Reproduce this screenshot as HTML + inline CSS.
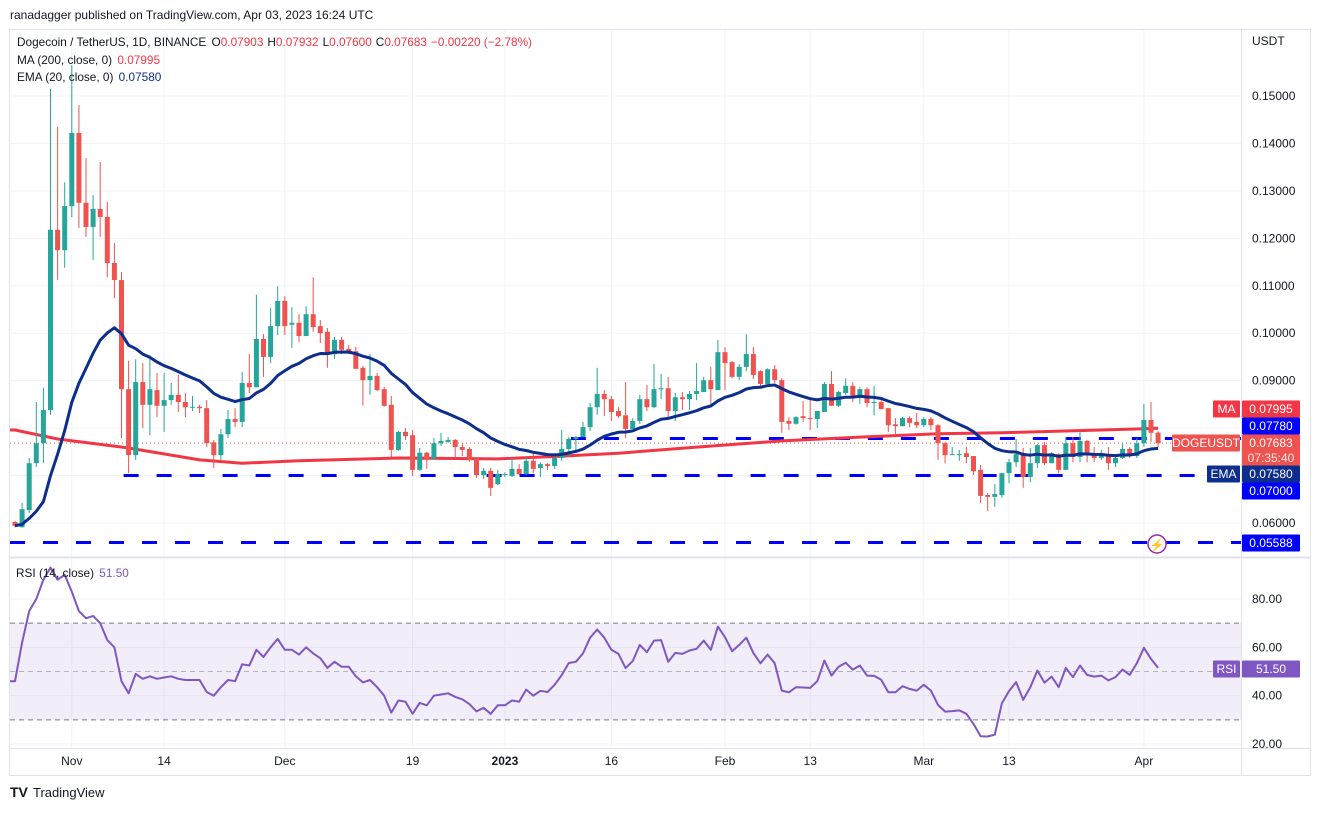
<!DOCTYPE html>
<html><head><meta charset="utf-8"><title>DOGEUSDT chart</title>
<style>
html,body{margin:0;padding:0;background:#fff;}
body{width:1320px;height:810px;overflow:hidden;font-family:"Liberation Sans",sans-serif;}
svg text{font-family:"Liberation Sans",sans-serif;}
</style></head>
<body>
<svg id="chart" width="1320" height="810" xmlns="http://www.w3.org/2000/svg">
  <text x="10" y="19" font-size="12" fill="#131722">ranadagger published on TradingView.com, Apr 03, 2023 16:24 UTC</text>
  <rect x="9.5" y="29.5" width="1301" height="746" fill="none" stroke="#e0e3eb"/>
  <g id="grid"></g>
  <rect x="10" y="623" width="1231" height="97" fill="#7e57c2" fill-opacity="0.1"/>
  <g id="rsiguides"></g>
  <g id="hlines"></g>
  <g id="ma-layer"></g>
  <g id="candles"></g>
  <g id="ema-layer"></g>
  <g id="rsi-layer"></g>
  <line x1="1241.5" y1="30" x2="1241.5" y2="775" stroke="#e0e3eb"/>
  <line x1="10" y1="557.5" x2="1310" y2="557.5" stroke="#e0e3eb" stroke-width="2"/>
  <line x1="10" y1="748.5" x2="1310" y2="748.5" stroke="#e0e3eb"/>
  <g id="axes"></g>
  <g id="tags"></g>
  <g font-size="11.8" fill="#131722">
    <text x="17" y="46">Dogecoin / TetherUS, 1D, BINANCE <tspan dx="2">O</tspan><tspan fill="#f23645">0.07903</tspan><tspan dx="4">H</tspan><tspan fill="#f23645">0.07932</tspan><tspan dx="4">L</tspan><tspan fill="#f23645">0.07600</tspan><tspan dx="4">C</tspan><tspan fill="#f23645">0.07683</tspan><tspan dx="4" fill="#f23645">−0.00220 (−2.78%)</tspan></text>
    <text x="17" y="64">MA (200, close, 0) <tspan dx="2" fill="#f23645">0.07995</tspan></text>
    <text x="17" y="81">EMA (20, close, 0) <tspan dx="2" fill="#0d2e8c">0.07580</tspan></text>
    <text x="16" y="577">RSI (14, close) <tspan dx="2" fill="#7e57c2">51.50</tspan></text>
  </g>
  <g>
    <circle cx="1157" cy="544" r="9" fill="#fff" stroke="#9c27b0" stroke-width="1.5"/>
    <text x="1157" y="549" font-size="12" fill="#9c27b0" text-anchor="middle">⚡</text>
  </g>
  <g>
    <text x="10" y="797" font-size="14" font-weight="bold" fill="#131722">TV</text>
    <text x="33" y="797" font-size="13" fill="#131722">TradingView</text>
  </g>
</svg>
<script>
const opens=[.0602,.0591,.0627,.0726,.0768,.0838,.1218,.1175,.1268,.1422,.1275,.1224,.1262,.1245,.1148,.1112,.0882,.0743,.0897,.0849,.0880,.0847,.0859,.0870,.0855,.0844,.0845,.0842,.0770,.0743,.0787,.0819,.0813,.0895,.0886,.0988,.0950,.1015,.1068,.1018,.1022,.0994,.1040,.1015,.1003,.0956,.0986,.0967,.0962,.0927,.0901,.0910,.0882,.0849,.0754,.0792,.0785,.0712,.0748,.0735,.0768,.0771,.0775,.0760,.0756,.0737,.0701,.0710,.0682,.0701,.0699,.0714,.0703,.0731,.0716,.0724,.0720,.0737,.0756,.0777,.0781,.0802,.0844,.0872,.0861,.0836,.0827,.0798,.0815,.0861,.0844,.0882,.0884,.0836,.0865,.0861,.0872,.0876,.0901,.0880,.0960,.0939,.0908,.0929,.0956,.0920,.0893,.0924,.0901,.0815,.0809,.0825,.0821,.0819,.0834,.0893,.0847,.0874,.0889,.0868,.0882,.0853,.0855,.0842,.0808,.0804,.0821,.0813,.0806,.0819,.0806,.0768,.0743,.0745,.0747,.0741,.0712,.0659,.0655,.0659,.0705,.0728,.0745,.0697,.0726,.0764,.0726,.0745,.0712,.0768,.0739,.0773,.0745,.0737,.0745,.0726,.0737,.0756,.0741,.0768,.0817,.07903];
const highs=[.0604,.0642,.0737,.0855,.0885,.1515,.1435,.1318,.1565,.1481,.1369,.1291,.1361,.1277,.1190,.1129,.0942,.0945,.0937,.0954,.0916,.0916,.0895,.0912,.0874,.0868,.0849,.0859,.0775,.0798,.0838,.0842,.0918,.0956,.1081,.0998,.1053,.1099,.1078,.1055,.1040,.1057,.1118,.1028,.1011,.0992,.0992,.0975,.0971,.0931,.0956,.0916,.0887,.0868,.0794,.0800,.0796,.0758,.0750,.0779,.0790,.0781,.0777,.0768,.0760,.0739,.0716,.0716,.0712,.0707,.0737,.0724,.0739,.0750,.0728,.0726,.0747,.0796,.0781,.0783,.0813,.0853,.0927,.0880,.0868,.0844,.0897,.0821,.0870,.0891,.0935,.0914,.0908,.0874,.0876,.0878,.0937,.0908,.0929,.0986,.0971,.0941,.0935,.0998,.0971,.0922,.0926,.0933,.0905,.0823,.0825,.0857,.0865,.0836,.0897,.0920,.0878,.0905,.0897,.0886,.0886,.0889,.0863,.0842,.0821,.0823,.0825,.0832,.0823,.0823,.0808,.0771,.0760,.0754,.0760,.0741,.0722,.0663,.0682,.0705,.0735,.0777,.0758,.0758,.0766,.0771,.0749,.0747,.0781,.0781,.0792,.0775,.0760,.0754,.0760,.0739,.0768,.0760,.0779,.0851,.0855,.07932];
const lows=[.0591,.0590,.0621,.0718,.0726,.0828,.1112,.1138,.1245,.1222,.1203,.1154,.1203,.1118,.1074,.0779,.0705,.0733,.0800,.0785,.0823,.0792,.0849,.0834,.0823,.0836,.0832,.0760,.0716,.0733,.0779,.0802,.0802,.0874,.0886,.0908,.0937,.0996,.0996,.0969,.0981,.0994,.1003,.0979,.0927,.0946,.0956,.0956,.0924,.0847,.0870,.0878,.0845,.0739,.0752,.0775,.0699,.0710,.0714,.0735,.0762,.0769,.0735,.0741,.0729,.0695,.0693,.0657,.0680,.0697,.0697,.0701,.0701,.0705,.0697,.0712,.0714,.0731,.0739,.0754,.0781,.0794,.0828,.0825,.0815,.0821,.0779,.0798,.0809,.0836,.0842,.0861,.0819,.0815,.0838,.0838,.0859,.0876,.0844,.0880,.0880,.0905,.0901,.0920,.0903,.0887,.0893,.0895,.0790,.0796,.0807,.0813,.0796,.0800,.0834,.0847,.0844,.0870,.0855,.0851,.0844,.0827,.0840,.0792,.0787,.0804,.0802,.0800,.0802,.0796,.0733,.0726,.0743,.0731,.0726,.0701,.0642,.0625,.0634,.0653,.0684,.0718,.0674,.0686,.0716,.0722,.0726,.0705,.0712,.0728,.0728,.0728,.0728,.0733,.0712,.0718,.0735,.0737,.0737,.0760,.0771,.07600];
const closes=[.0594,.0629,.0726,.0768,.0838,.1218,.1175,.1268,.1422,.1275,.1224,.1262,.1245,.1148,.1112,.0882,.0743,.0897,.0849,.0882,.0847,.0859,.0870,.0855,.0844,.0845,.0842,.0768,.0743,.0787,.0819,.0813,.0895,.0886,.0988,.0950,.1015,.1068,.1015,.1022,.0994,.1040,.1013,.1000,.0956,.0986,.0965,.0960,.0925,.0901,.0910,.0880,.0847,.0754,.0792,.0783,.0712,.0748,.0735,.0768,.0773,.0775,.0760,.0754,.0733,.0701,.0710,.0674,.0703,.0703,.0714,.0703,.0731,.0714,.0724,.0720,.0737,.0756,.0777,.0781,.0802,.0844,.0872,.0861,.0834,.0825,.0798,.0815,.0861,.0844,.0882,.0884,.0836,.0865,.0861,.0872,.0878,.0901,.0882,.0960,.0937,.0908,.0929,.0956,.0912,.0893,.0924,.0901,.0813,.0809,.0823,.0821,.0819,.0836,.0893,.0847,.0876,.0889,.0868,.0882,.0853,.0855,.0840,.0806,.0804,.0821,.0811,.0806,.0819,.0806,.0768,.0743,.0745,.0745,.0739,.0709,.0657,.0655,.0661,.0705,.0728,.0745,.0697,.0726,.0764,.0726,.0747,.0712,.0768,.0739,.0773,.0743,.0737,.0743,.0726,.0737,.0756,.0741,.0768,.0817,.0790,.07683];
const rsiValues=[46,62,75,80,88,93,88,90,83,75,72,73,70,63,60,46,41,49,47,48,47,47.5,48,47,46.5,46.5,46.5,41.5,40,43.5,46.5,46,53,52.5,59,56,60,63.5,59,59,57,60,57.5,55.5,51.5,54,52,52,48,45.5,46.5,43.5,40,33,38,37.5,32.5,37,36,40,40.5,41,39.5,38.5,36.5,33.5,35,32.5,36,36,38,37.5,42.5,40,42,41.5,44.5,48.5,53.5,54,57.5,64,67.4,64,59,57.3,51.4,54.3,61,58,62.8,63,54,57.7,57.3,58.7,59.4,62.8,59,68.6,64.2,58.4,61,64,57.6,53.4,57,53.4,42.1,41.4,43.5,43.4,43.2,46,54.5,48.3,52,53.6,50.8,52.5,48.3,48.2,46.6,41.4,41.4,43.9,42.8,42.1,44.5,42.1,36.2,33.4,33.6,33.9,32.5,28.3,23.2,23.1,23.9,36.9,41.9,45.6,38.3,43.5,50.4,45.4,47.9,43.5,51.5,47.7,52.5,48.6,47.9,48.3,46.3,47.7,50.8,48.6,53.4,59.8,55.2,51.5];
const maIndex=[0,6,16,26,32,40,54,68,77,85,96,108,119,130,139,153,161];
const maValues=[.0796,.0777,.0758,.0733,.0726,.0731,.0737,.0735,.0741,.0747,.0760,.0773,.0781,.0788,.0790,.0796,.07995];
const priceTicks=[0.06,0.07,0.08,0.09,0.10,0.11,0.12,0.13,0.14,0.15];
const rsiTicks=[80,60,40,20];
const dateLabels=["Nov","14","Dec","19","2023","16","Feb","13","Mar","13","Apr"];
const dateIndex=[8,21,38,56,69,84,100,112,128,140,159];
const levelValues=[0.0778,0.07,0.05588];
const levelStart=[79,16,0];

const NS="http://www.w3.org/2000/svg";
function px(i){return 15+i*7.1;}
function py(p){return 96+(0.15-p)*4744;}
function ry(v){return 599+(80-v)*2.4167;}
function mk(tag,attrs,parent){const e=document.createElementNS(NS,tag);for(const k in attrs)e.setAttribute(k,attrs[k]);parent.appendChild(e);return e;}
const grid=document.getElementById('grid'),axes=document.getElementById('axes');

priceTicks.forEach(function(t){
  const y=py(t);
  const g=mk('line',{x1:10,x2:1241,y1:y,y2:y,stroke:'#f0f3fa'},grid);
  
  
  const tx=mk('text',{x:1252,y:y+4,'font-size':12,fill:'#131722'},axes);
  tx.textContent=t.toFixed(5);
  
  
});
const unit=mk('text',{x:1252,y:45,'font-size':12,fill:'#131722'},axes);
unit.textContent='USDT';



rsiTicks.forEach(function(t){
  const y=ry(t);
  const g=mk('line',{x1:10,x2:1241,y1:y,y2:y,stroke:'#f0f3fa'},grid);
  
  
  const tx=mk('text',{x:1252,y:y+4,'font-size':12,fill:'#131722'},axes);
  tx.textContent=t.toFixed(2);
  
  
});
dateIndex.forEach(function(d,k){
  const x=px(d);
  const g=mk('line',{x1:x,x2:x,y1:30,y2:748,stroke:'#f0f3fa'},grid);
  
  
  const tx=mk('text',{x:x,y:765,'font-size':12,fill:'#131722','text-anchor':'middle','font-weight':dateLabels[k]==='2023'?'bold':'normal'},axes);
  tx.textContent=dateLabels[k];
  
  
});
const rg=document.getElementById('rsiguides');
[70,50,30].forEach(function(v){
  const l=mk('line',{x1:10,x2:1241,y1:ry(v),y2:ry(v),stroke:v===50?'#b2b5be':'#787b86','stroke-dasharray':'5,4'},rg);
  
  
});

const hl=document.getElementById('hlines');
levelValues.forEach(function(v,k){
  const y=py(v);
  const l=mk('line',{x1:px(levelStart[k])-5,x2:1241,y1:y,y2:y,stroke:'#0000ff','stroke-width':3,'stroke-dasharray':'15,18'},hl);
  
  
});
const cur=mk('line',{x1:10,x2:1241,y1:py(closes[closes.length-1]),y2:py(closes[closes.length-1]),stroke:'#ef5350','stroke-dasharray':'1,3'},hl);



let mad='';
maIndex.forEach(function(i,k){mad+=(k?'L':'M')+px(i).toFixed(1)+','+py(maValues[k]).toFixed(1);});
const mal=mk('path',{d:'M10,'+py(maValues[0]).toFixed(1)+mad.replace('M','L'),fill:'none',stroke:'#f23645','stroke-width':3,'stroke-linejoin':'round'},document.getElementById('ma-layer'));



const cg=document.getElementById('candles');
closes.forEach(function(c,i){
  const o=opens[i],up=c>=o,col=up?'#26a69a':'#ef5350',x=px(i);
  const w=mk('line',{x1:x,x2:x,y1:py(highs[i]),y2:py(lows[i]),stroke:col,'stroke-width':1},cg);
  
  
  const top=py(Math.max(o,c)),bot=py(Math.min(o,c));
  const b=mk('rect',{x:x-2.5,y:top,width:5,height:Math.max(1,bot-top),fill:col},cg);
  
  
});

let e=closes[0],ed='';
const alpha=2/21;
closes.forEach(function(c,i){e=i?alpha*c+(1-alpha)*e:c;ed+=(i?'L':'M')+px(i).toFixed(1)+','+py(e).toFixed(1);});
const el=mk('path',{d:ed,fill:'none',stroke:'#0d2e8c','stroke-width':3,'stroke-linejoin':'round'},document.getElementById('ema-layer'));



let rd='M10,'+ry(rsiValues[0]).toFixed(1);
rsiValues.forEach(function(v,i){rd+='L'+px(i).toFixed(1)+','+ry(v).toFixed(1);});
const rl=mk('path',{d:rd,fill:'none',stroke:'#7e57c2','stroke-width':2,'stroke-linejoin':'round'},document.getElementById('rsi-layer'));



const tg=document.getElementById('tags');
function tag(y,label,bg,name,h){
  h=h||17;
  const r=mk('rect',{x:1242,y:y-8.5,width:58,height:h,fill:bg,rx:1},tg);
  
  
  const t=mk('text',{x:1271,y:y+4,'font-size':12,fill:'#fff','text-anchor':'middle'},tg);
  t.textContent=label;
  
  
}
function ltag(y,label,bg,w,name){
  const r=mk('rect',{x:1240-w,y:y-8.5,width:w,height:17,fill:bg,rx:1},tg);
  
  
  const t=mk('text',{x:1240-w/2,y:y+4,'font-size':12,fill:'#fff','text-anchor':'middle'},tg);
  t.textContent=label;
  
  
}
tag(409,'0.07995','#f23645','ma-price');
ltag(409,'MA','#f23645',27,'ma');
tag(426,'0.07780','#0000ff','resistance-price');
tag(443,'0.07683','#ef5350','last-price',32);
const cd=mk('text',{x:1271,y:462,'font-size':12,fill:'#fff','text-anchor':'middle','fill-opacity':0.85},tg);
cd.textContent='07:35:40';


ltag(443,'DOGEUSDT','#ef5350',68,'symbol');
tag(474,'0.07580','#0d2e8c','ema-price');
ltag(474,'EMA','#0d2e8c',33,'ema');
tag(491,'0.07000','#0000ff','support-price');
tag(543,'0.05588','#0000ff','low-support-price');
tag(669,'51.50','#7e57c2','rsi-price');
ltag(669,'RSI','#7e57c2',27,'rsi');
</script>
</body></html>
